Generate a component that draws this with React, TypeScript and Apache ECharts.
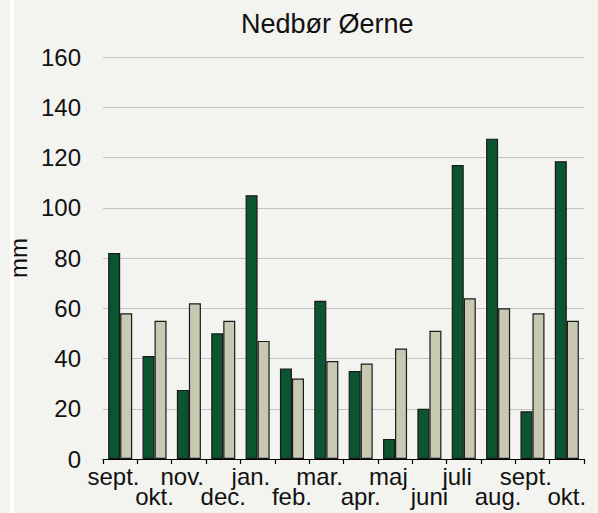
import React, { useEffect, useRef } from "react";
import * as echarts from "echarts";

const titleText = "Nedbør Øerne";
const yAxisName = "mm";
const categories = ["sept.", "okt.", "nov.", "dec.", "jan.", "feb.", "mar.", "apr.", "maj", "juni", "juli", "aug.", "sept.", "okt."];
const nedbor = [82, 41, 27.5, 50, 105, 36, 63, 35, 8, 20, 117, 127.5, 19, 118.5];
const normal = [58, 55, 62, 55, 47, 32, 39, 38, 44, 51, 64, 60, 58, 55];
const yMin = 0;
const yMax = 160;
const yStep = 20;

export default function App() {
  const ref = useRef<HTMLDivElement>(null);
  useEffect(() => {
    document.body.style.margin = "0";
    document.body.style.background = "#f3f3ef";
    const chart = echarts.init(ref.current!, null, { renderer: "svg" });
    const font = "Liberation Sans, Arial, sans-serif";
    chart.setOption({
      animation: false,
      backgroundColor: "#f3f3ef",
      textStyle: { fontFamily: font },
      title: {
        text: titleText,
        left: 236,
        top: 5,
        textStyle: { fontSize: 27, fontWeight: "normal", color: "#111", fontFamily: font },
      },
      graphic: [
        { type: "rect", left: 10, top: 0, shape: { width: 4, height: 513 }, style: { fill: "#ffffff" } },
      ],
      grid: { left: 103, right: 14, top: 57, bottom: 54, containLabel: false, outerBoundsMode: "none" },
      xAxis: {
        type: "category",
        data: categories,
        axisLine: { show: true, lineStyle: { color: "#000", width: 1.2 } },
        axisTick: { show: true, length: 5, lineStyle: { color: "#000", width: 1.2 } },
        axisLabel: {
          interval: 0,
          color: "#111",
          fontSize: 24,
          lineHeight: 20,
          margin: 7,
          formatter: (v: string, i: number) => (i % 2 === 1 ? "\n" + v : v + "\u00a0\u00a0"),
        },
      },
      yAxis: {
        type: "value",
        min: yMin,
        max: yMax,
        interval: yStep,
        name: yAxisName,
        nameLocation: "middle",
        nameRotate: 90,
        nameGap: 69,
        nameTextStyle: { fontSize: 24, color: "#111" },
        axisLine: { show: false },
        axisTick: { show: false },
        axisLabel: { color: "#111", fontSize: 24, margin: 22 },
        splitLine: { lineStyle: { color: "#c4c4c4", width: 1.2 } },
      },
      series: [
        {
          type: "bar",
          data: nedbor,
          barGap: "0%",
          barCategoryGap: "30%",
          itemStyle: { color: "#0b5530", borderColor: "#1a1a1a", borderWidth: 1.2 },
        },
        {
          type: "bar",
          data: normal,
          barGap: "0%",
          barCategoryGap: "30%",
          itemStyle: { color: "#c8c8b3", borderColor: "#1a1a1a", borderWidth: 1.2 },
        },
      ],
    });
    return () => chart.dispose();
  }, []);
  return <div ref={ref} style={{ width: 598, height: 513 }} />;
}
